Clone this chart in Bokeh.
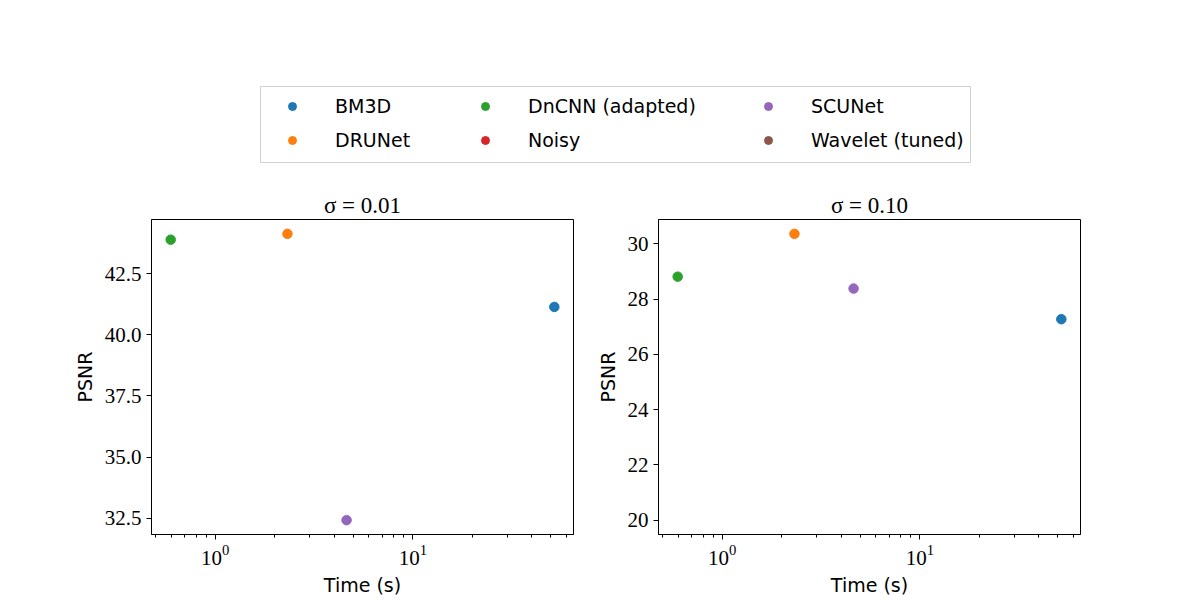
import math

from bokeh.embed import file_html
from bokeh.layouts import column, row
from bokeh.models import (ColumnDataSource, FixedTicker, Legend, LegendItem,
                          NumeralTickFormatter, Range1d)
from bokeh.plotting import figure
from bokeh.resources import INLINE

NAN = float("nan")

# --- data -------------------------------------------------------------------
methods = ["BM3D", "DRUNet", "DnCNN (adapted)", "Noisy", "SCUNet", "Wavelet (tuned)"]
colors = ["#1f77b4", "#ff7f0e", "#2ca02c", "#d62728", "#9467bd", "#8c564b"]
# run time per image in seconds (Noisy / Wavelet have no timing)
times = [52.0, 2.32, 0.595, NAN, 4.62, NAN]
# PSNR for the two noise levels
psnr_sigma_001 = [41.14, 44.13, 43.89, 40.0, 32.42, NAN]
psnr_sigma_010 = [27.27, 30.36, 28.81, 20.0, 28.38, NAN]

titles = ["σ = 0.01", "σ = 0.10"]
yticks_001 = [32.5, 35.0, 37.5, 40.0, 42.5]
yticks_010 = [20, 22, 24, 26, 28, 30]
xticks = [1, 10]

SANS = "DejaVu Sans"
SERIF = "Liberation Serif"


def finite(vals):
    return [v for v in vals if not math.isnan(v)]


def padded_range(vals, log=False, frac=0.05):
    v = finite(vals)
    if log:
        v = [math.log10(a) for a in v]
    lo, hi = min(v), max(v)
    pad = (hi - lo) * frac
    lo, hi = lo - pad, hi + pad
    if log:
        return 10 ** lo, 10 ** hi
    return lo, hi


x_lo, x_hi = padded_range(times, log=True)
minor_x = [m * 10 ** e for e in (-1, 0, 1) for m in range(2, 10)
           if x_lo <= m * 10 ** e <= x_hi]


def make_panel(psnr, yticks, title, fmt, width, border_left, border_right):
    y_lo, y_hi = padded_range(psnr)
    p = figure(width=width, height=420, x_axis_type="log",
               x_range=Range1d(x_lo, x_hi), y_range=Range1d(y_lo, y_hi),
               toolbar_location=None, output_backend="svg",
               min_border_left=border_left, min_border_right=border_right,
               min_border_top=39, min_border_bottom=66, title=title)
    p.title.text_font = SERIF
    p.title.text_font_size = "23px"
    p.title.text_font_style = "normal"
    p.title.text_color = "black"
    p.title.align = "center"
    p.title.standoff = 4
    p.xgrid.visible = False
    p.ygrid.visible = False
    p.outline_line_color = "black"
    p.outline_line_width = 1
    p.background_fill_color = "white"
    p.border_fill_color = "white"

    src = ColumnDataSource(dict(x=times, y=psnr, c=colors))
    p.scatter("x", "y", source=src, size=9.5, fill_color="c", line_color="c")

    for ax in (p.xaxis[0], p.yaxis[0]):
        ax.axis_line_color = "black"
        ax.major_tick_line_color = "black"
        ax.minor_tick_line_color = "black"
        ax.major_tick_in = 0
        ax.major_tick_out = 5
        ax.minor_tick_in = 0
        ax.minor_tick_out = 3
        ax.major_label_text_font = SERIF
        ax.major_label_text_font_size = "21px"
        ax.major_label_text_color = "black"
        ax.axis_label_text_font = SANS
        ax.axis_label_text_font_size = "19px"
        ax.axis_label_text_font_style = "normal"
        ax.axis_label_text_color = "black"

    p.xaxis.ticker = FixedTicker(ticks=xticks, minor_ticks=minor_x)
    p.xaxis.axis_label = "Time (s)"
    p.xaxis.axis_label_standoff = 6
    p.yaxis.ticker = FixedTicker(ticks=yticks, minor_ticks=[])
    p.yaxis.formatter = NumeralTickFormatter(format=fmt)
    p.yaxis.axis_label = "PSNR"
    p.yaxis.axis_label_standoff = 6
    return p


left = make_panel(psnr_sigma_001, yticks_001, titles[0], "0.0", 590, 151, 17)
right = make_panel(psnr_sigma_010, yticks_010, titles[1], "0", 610, 68, 120)

# --- shared legend strip ---------------------------------------------------
leg = figure(width=1200, height=180, x_range=Range1d(0, 1), y_range=Range1d(0, 1),
             x_axis_type=None, y_axis_type=None, toolbar_location=None,
             output_backend="svg", min_border_left=260, min_border_right=230,
             min_border_top=86, min_border_bottom=18)
leg.outline_line_color = "#d0d0d0"
leg.outline_line_width = 1
leg.background_fill_color = "white"
leg.border_fill_color = "white"

handles = []
for m, c in zip(methods, colors):
    handles.append(leg.scatter(x=[NAN], y=[NAN], size=8, fill_color=c, line_color=c))

col_offsets = [22, 215, 498]
for k, xoff in enumerate(col_offsets):
    items = [LegendItem(label=methods[i], renderers=[handles[i]])
             for i in (2 * k, 2 * k + 1)]
    lg = Legend(items=items, location=(xoff, 10), orientation="vertical",
                border_line_color=None, background_fill_alpha=0,
                padding=0, margin=0, spacing=10,
                glyph_width=20, glyph_height=24, label_height=24,
                label_standoff=33, label_text_font=SANS,
                label_text_font_size="19px", label_text_color="black")
    leg.add_layout(lg, "center")

page = column(leg, row(left, right))

with open("out.html", "w") as f:
    f.write(file_html(page, INLINE))
